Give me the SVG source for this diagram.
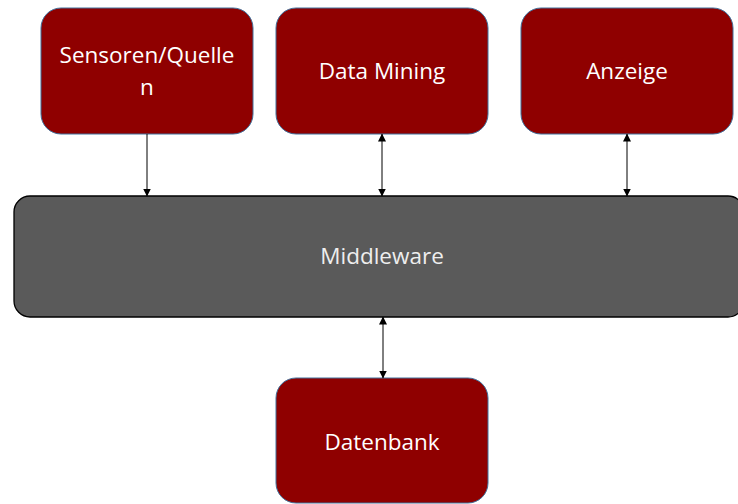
<svg xmlns="http://www.w3.org/2000/svg" width="738" height="504" viewBox="0 0 738 504">
<defs>
<marker id="ah" markerWidth="8" markerHeight="8" refX="7.5" refY="4" orient="auto-start-reverse" markerUnits="userSpaceOnUse">
<path d="M0,0 L8,4 L0,8 Z" fill="#000"/>
</marker>
<style>
.box{fill:#8F0000;stroke:#41719C;stroke-width:1}
.mw{fill:#5A5A5A;stroke:#000;stroke-width:1.3}
.t{font-family:"Open Sans","Liberation Sans",sans-serif;font-size:22.5px;fill:#fff;text-anchor:middle}
.c{stroke:#000;stroke-width:1;fill:none}
</style>
</defs>
<rect width="738" height="504" fill="#fff"/>
<g id="sensoren">
<rect class="box" x="41" y="8" width="212" height="126" rx="20"/>
<text class="t" x="147" y="63">Sensoren/Quelle</text>
<text class="t" x="147" y="95">n</text>
</g>
<g id="datamining">
<rect class="box" x="276" y="8" width="212" height="126" rx="20"/>
<text class="t" x="382" y="79">Data Mining</text>
</g>
<g id="anzeige">
<rect class="box" x="521" y="8" width="212" height="126" rx="20"/>
<text class="t" x="627" y="79">Anzeige</text>
</g>
<g id="middleware">
<rect class="mw" x="14" y="196" width="730" height="121" rx="16"/>
<text class="t" x="382" y="264" style="fill:#EEEEEE">Middleware</text>
</g>
<g id="datenbank">
<rect class="box" x="276" y="378" width="212" height="125" rx="20"/>
<text class="t" x="382" y="450">Datenbank</text>
</g>
<g id="connectors">
<line class="c" x1="147" y1="134" x2="147" y2="196" marker-end="url(#ah)"/>
<line class="c" x1="382" y1="134" x2="382" y2="196" marker-start="url(#ah)" marker-end="url(#ah)"/>
<line class="c" x1="627" y1="134" x2="627" y2="196" marker-start="url(#ah)" marker-end="url(#ah)"/>
<line class="c" x1="383" y1="317" x2="383" y2="378" marker-start="url(#ah)" marker-end="url(#ah)"/>
</g>
</svg>
